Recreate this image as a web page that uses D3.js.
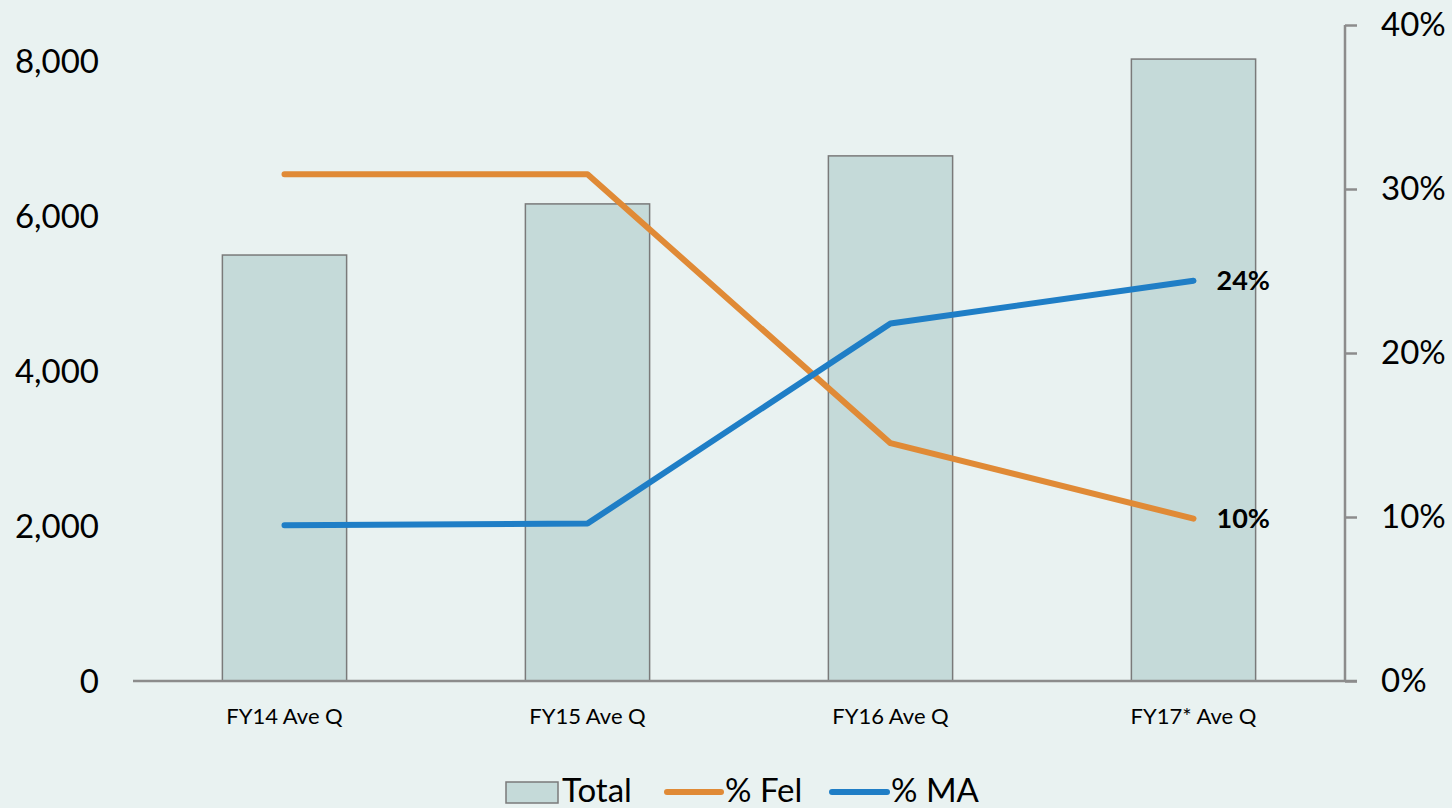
<!DOCTYPE html>
<html>
<head>
<meta charset="utf-8">
<script src="https://cdn.jsdelivr.net/npm/d3@7"></script>
<style>
  body { margin: 0; background: #e9f2f1; }
  svg text { font-family: Lato, "Open Sans", sans-serif; fill: #000; }
</style>
</head>
<body>
<div id="chart"></div>
<script>
// data
var categories = ["FY14 Ave Q", "FY15 Ave Q", "FY16 Ave Q", "FY17* Ave Q"];
var totals = [5500, 6160, 6780, 8030];
var pctFel = [0.309, 0.309, 0.145, 0.099];
var pctMA = [0.095, 0.096, 0.218, 0.244];
var leftTicks = [0, 2000, 4000, 6000, 8000];
var rightTicks = [0, 0.1, 0.2, 0.3, 0.4];

var width = 1452, height = 808;
var plotLeft = 133, plotRight = 1345, plotTop = 25, plotBottom = 681;

var svg = d3.select("#chart").append("svg")
  .attr("width", width)
  .attr("height", height);

svg.append("rect").attr("width", width).attr("height", height).attr("fill", "#e9f2f1");

var x = d3.scaleBand().domain(categories).range([plotLeft, plotRight]).paddingInner(0.59).paddingOuter(0.295);
var yL = d3.scaleLinear().domain([0, 8470]).range([plotBottom, plotTop]);
var yR = d3.scaleLinear().domain([0, 0.4]).range([plotBottom, plotTop]);

// bars
svg.selectAll("rect.bar")
  .data(totals)
  .enter().append("rect")
  .attr("class", "bar")
  .attr("x", function(d, i) { return x(categories[i]); })
  .attr("y", function(d) { return yL(d); })
  .attr("width", x.bandwidth())
  .attr("height", function(d) { return plotBottom - yL(d); })
  .attr("fill", "#c5dad9")
  .attr("stroke", "#7a7a7a")
  .attr("stroke-width", 1.5);

// left tick labels (no axis line)
svg.selectAll("text.ly")
  .data(leftTicks)
  .enter().append("text")
  .attr("class", "ly")
  .attr("x", 99)
  .attr("y", function(d) { return yL(d); })
  .attr("dy", "0.35em")
  .attr("text-anchor", "end")
  .style("font-size", "33px")
  .text(d3.format(","));

// right axis
var rAxis = svg.append("g")
  .attr("transform", "translate(" + plotRight + ",0)")
  .call(d3.axisRight(yR).tickValues(rightTicks).tickFormat(d3.format(".0%")).tickSize(12).tickPadding(24));
rAxis.selectAll("path, line").attr("stroke", "#8c8c8c").attr("stroke-width", 2.5);
rAxis.select("path").attr("d", "M0," + plotTop + "V" + plotBottom);
rAxis.selectAll("text").style("font-size", "33px").attr("fill", "#000").style("font-family", "Lato, 'Open Sans', sans-serif");

// x axis
svg.append("line")
  .attr("x1", plotLeft).attr("x2", plotRight + 12)
  .attr("y1", plotBottom).attr("y2", plotBottom)
  .attr("stroke", "#8c8c8c").attr("stroke-width", 2.5);

svg.selectAll("text.xl")
  .data(categories)
  .enter().append("text")
  .attr("class", "xl")
  .attr("x", function(d) { return x(d) + x.bandwidth() / 2; })
  .attr("y", 724)
  .attr("text-anchor", "middle")
  .style("font-size", "22px")
  .text(function(d) { return d; });

// lines
var cx = function(d, i) { return x(categories[i]) + x.bandwidth() / 2; };
var lineGen = d3.line().x(cx).y(function(d) { return yR(d); });

svg.append("path").datum(pctFel)
  .attr("d", lineGen).attr("fill", "none")
  .attr("stroke", "#e08a36").attr("stroke-width", 6).attr("stroke-linecap", "round").attr("stroke-linejoin", "round");

svg.append("path").datum(pctMA)
  .attr("d", lineGen).attr("fill", "none")
  .attr("stroke", "#1f7ec6").attr("stroke-width", 6).attr("stroke-linecap", "round").attr("stroke-linejoin", "round");

// end labels
var last = categories.length - 1;
[pctMA, pctFel].forEach(function(s) {
  svg.append("text")
    .attr("x", cx(null, last) + 23)
    .attr("y", yR(s[last]))
    .attr("dy", "0.35em")
    .style("font-size", "27px")
    .style("font-weight", "bold")
    .text(d3.format(".0%")(s[last]));
});

// legend
var lg = svg.append("g");
lg.append("rect").attr("x", 506).attr("y", 782).attr("width", 52).attr("height", 21)
  .attr("fill", "#c5dad9").attr("stroke", "#7a7a7a").attr("stroke-width", 1.5);
lg.append("text").attr("x", 562).attr("y", 802).style("font-size", "33px").text("Total");
lg.append("line").attr("x1", 667).attr("x2", 721).attr("y1", 792).attr("y2", 792)
  .attr("stroke", "#e08a36").attr("stroke-width", 6).attr("stroke-linecap", "round");
lg.append("text").attr("x", 725).attr("y", 802).style("font-size", "33px").text("% Fel");
lg.append("line").attr("x1", 832).attr("x2", 887).attr("y1", 792).attr("y2", 792)
  .attr("stroke", "#1f7ec6").attr("stroke-width", 6).attr("stroke-linecap", "round");
lg.append("text").attr("x", 891).attr("y", 802).style("font-size", "33px").text("% MA");
</script>
</body>
</html>
